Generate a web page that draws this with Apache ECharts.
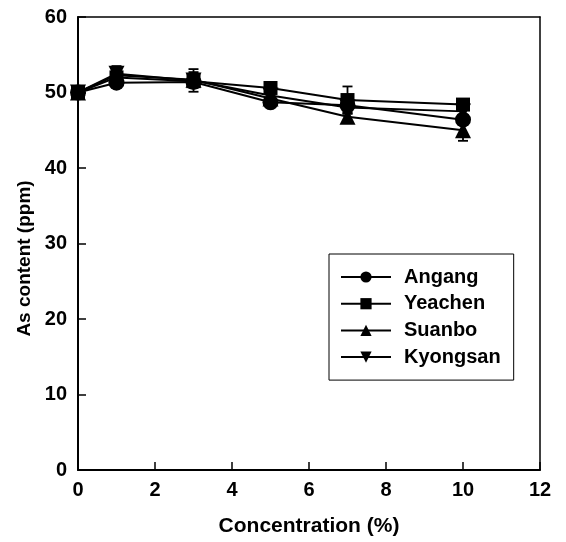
<!DOCTYPE html>
<html>
<head>
<meta charset="utf-8">
<script src="https://cdn.jsdelivr.net/npm/echarts@6/dist/echarts.min.js"></script>
<style>
  html, body { margin: 0; padding: 0; background: #fff; }
  #chart { width: 566px; height: 542px; }
</style>
</head>
<body>
<div id="chart"></div>
<script>
// data
var concentration = [0, 1, 3, 5, 7, 10];

var angang   = [50.0, 51.3, 51.4, 48.7, 48.3, 46.4];
var yeachen  = [50.0, 52.0, 51.5, 50.6, 49.0, 48.4];
var suanbo   = [50.0, 52.3, 51.7, 49.2, 46.8, 45.0];
var kyongsan = [50.0, 52.5, 51.6, 49.6, 48.0, 47.5];

// error (± ppm)
var angangErr   = [0.3, 0.4, 0.8, 0.5, 0.6, 0.5];
var yeachenErr  = [0.3, 0.5, 0.6, 0.5, 1.8, 0.6];
var suanboErr   = [0.3, 0.6, 1.0, 0.5, 0.6, 1.4];
var kyongsanErr = [0.3, 1.0, 1.5, 0.5, 0.8, 0.6];

var xTicks = [0, 2, 4, 6, 8, 10, 12];
var yTicks = [0, 10, 20, 30, 40, 50, 60];

var FONT = "'Liberation Sans', Arial, sans-serif";

// 组合 [x, y]
function pairs(ys) {
  return concentration.map(function(x, i) { return [x, ys[i]]; });
}
function errPairs(ys, es) {
  return concentration.map(function(x, i) { return [x, ys[i] - es[i], ys[i] + es[i]]; });
}

function lineSeries(name, ys, symbol, rotate) {
  return {
    name: name,
    type: 'line',
    data: pairs(ys),
    symbol: symbol,
    symbolSize: symbol === 'rect' ? 14 : 16,
    symbolRotate: rotate || 0,
    lineStyle: { color: '#000', width: 2 },
    itemStyle: { color: '#000' },
    z: 3
  };
}

function errSeries(ys, es) {
  return {
    type: 'custom',
    data: errPairs(ys, es),
    silent: true,
    z: 2,
    renderItem: function(params, api) {
      var lo = api.coord([api.value(0), api.value(1)]);
      var hi = api.coord([api.value(0), api.value(2)]);
      var w = 5;
      var st = { stroke: '#000', lineWidth: 1.8 };
      return {
        type: 'group',
        children: [
          { type: 'line', shape: { x1: lo[0], y1: lo[1], x2: hi[0], y2: hi[1] }, style: st },
          { type: 'line', shape: { x1: lo[0] - w, y1: lo[1], x2: lo[0] + w, y2: lo[1] }, style: st },
          { type: 'line', shape: { x1: hi[0] - w, y1: hi[1], x2: hi[0] + w, y2: hi[1] }, style: st }
        ]
      };
    }
  };
}

var myChart = echarts.init(document.getElementById('chart'));

var option = {
  animation: false,
  backgroundColor: '#fff',
  textStyle: { fontFamily: FONT, color: '#000' },
  grid: { left: 78, right: 26, top: 17, bottom: 72 },
  legend: {
    orient: 'vertical',
    left: 329,
    top: 254,
    data: ['Angang', 'Yeachen', 'Suanbo', 'Kyongsan'],
    itemWidth: 50,
    itemHeight: 14,
    itemGap: 6.7,
    padding: [13, 13, 13, 11],
    borderColor: '#000',
    borderWidth: 1,
    textStyle: { fontFamily: FONT, fontSize: 20, fontWeight: 'bold', color: '#000', padding: [0, 0, 0, 8] }
  },
  xAxis: [
    {
      type: 'value',
      min: xTicks[0],
      max: xTicks[xTicks.length - 1],
      interval: 2,
      name: 'Concentration (%)',
      nameLocation: 'middle',
      nameGap: 46,
      nameTextStyle: { fontFamily: FONT, fontSize: 21, fontWeight: 'bold', color: '#000' },
      axisLine: { onZero: false, lineStyle: { color: '#000', width: 2 } },
      axisTick: { inside: true, length: 8, lineStyle: { color: '#000', width: 1.5 } },
      axisLabel: { fontFamily: FONT, fontSize: 20, fontWeight: 'bold', color: '#000', margin: 10 },
      splitLine: { show: false }
    },
    {
      type: 'value',
      position: 'top',
      min: 0, max: 12,
      axisLine: { onZero: false, lineStyle: { color: '#000', width: 1.5 } },
      axisTick: { show: false },
      axisLabel: { show: false },
      splitLine: { show: false }
    }
  ],
  yAxis: [
    {
      type: 'value',
      min: yTicks[0],
      max: yTicks[yTicks.length - 1],
      interval: 10,
      name: 'As content (ppm)',
      nameLocation: 'middle',
      nameGap: 40,
      nameTextStyle: { fontFamily: FONT, fontSize: 19, fontWeight: 'bold', color: '#000', padding: [0, 30, 0, 0] },
      axisLine: { onZero: false, lineStyle: { color: '#000', width: 2 } },
      axisTick: { inside: true, length: 8, lineStyle: { color: '#000', width: 1.5 } },
      axisLabel: { fontFamily: FONT, fontSize: 20, fontWeight: 'bold', color: '#000', margin: 11 },
      splitLine: { show: false }
    },
    {
      type: 'value',
      position: 'right',
      min: 0, max: 60,
      axisLine: { show: true, onZero: false, lineStyle: { color: '#000', width: 1.5 } },
      axisTick: { show: false },
      axisLabel: { show: false },
      splitLine: { show: false }
    }
  ],
  series: [
    errSeries(angang, angangErr),
    errSeries(yeachen, yeachenErr),
    errSeries(suanbo, suanboErr),
    errSeries(kyongsan, kyongsanErr),
    lineSeries('Angang', angang, 'circle'),
    lineSeries('Yeachen', yeachen, 'rect'),
    lineSeries('Suanbo', suanbo, 'triangle'),
    lineSeries('Kyongsan', kyongsan, 'triangle', 180)
  ]
};

myChart.setOption(option);
</script>
</body>
</html>
